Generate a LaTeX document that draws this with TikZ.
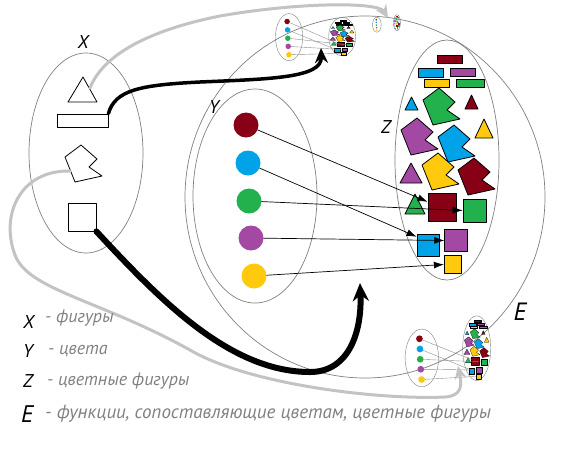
\documentclass[tikz,border=0pt]{standalone}
\usepackage{fontspec}
\setmainfont{PT Sans}
\usetikzlibrary{arrows.meta}
\definecolor{mred}{HTML}{880015}
\definecolor{mblue}{HTML}{00A2E8}
\definecolor{mgreen}{HTML}{22B14C}
\definecolor{mpurple}{HTML}{A349A4}
\definecolor{myellow}{HTML}{FFC90E}
\definecolor{lgray}{HTML}{C3C3C3}
% notched figure, drawn from its left corner
\newcommand\pac{(0,0) -- (16,-12) -- (32,2) -- (24,10) -- (37,19) -- (10,25) -- cycle}
% colours
\newcommand\ypart{%
  \draw[rim] (255,196) ellipse [x radius=62pt, y radius=107pt];
  \foreach \n/\px/\py in {red/246/125, blue/248/163, green/249/201, purple/251/238, yellow/254/276}
    \node[blob, fill=m\n] (c\n) at (\px,\py) {};
}
% coloured figures
\newcommand\zpart{%
  \draw[rim] (447,160) ellipse [x radius=52pt, y radius=120pt];
  \foreach \n/\xa/\ya/\xb/\yb in {red/437/55/462/63, blue/418/68/443/77, purple/450/68/475/76, yellow/424/79/449/87, green/456/79/484/87}
    \filldraw[fig, fill=m\n] (\xa,\ya) rectangle (\xb,\yb);
  \foreach \n/\cx/\by/\w/\h in {blue/411.5/110/13/13, red/471.5/109/13/14, yellow/484/138/18/19, purple/411/183/22/20, green/415/214/20/20}
    \filldraw[fig, fill=m\n] ({\cx-\w/2},\by) -- (\cx,{\by-\h}) -- ({\cx+\w/2},\by) -- cycle;
  \foreach \n/\px/\py in {green/423/100, purple/401/130, blue/438/137, yellow/422/165, red/458/170}
    \filldraw[fig, fill=m\n, shift={(\px,\py)}] \pac;
  \foreach \n/\px/\py/\s in {red/442/207/28, green/474.5/210.5/23, blue/428/245/22, purple/456/240.5/22.5, yellow/453/264.5/17.5}
    \node[sq, fill=m\n, minimum size=\s] (s\n) at (\px,\py) {};
}
% the function itself
\newcommand\links{%
  \foreach \n/\a in {red/160, blue/144, green/180, purple/180, yellow/180}
    \draw[wire] (c\n) -- (s\n.\a);
}
\begin{document}
\begin{tikzpicture}[x=1pt, y=-1pt, line cap=round, line join=round,
    rim/.style={draw=black!50, line width=0.7pt},
    fig/.style={draw=black, line width=0.8pt},
    sq/.style={draw=black, line width=0.8pt, inner sep=0pt},
    blob/.style={circle, minimum size=25pt, inner sep=0pt},
    wire/.style={-{Latex[length=10pt,width=7pt]}, line width=0.7pt},
    mini/.style={rim/.style={draw=black!50, line width=0.4pt},
      fig/.style={draw=black, line width=0.2pt},
      sq/.append style={line width=0.2pt},
      wire/.style={draw=black!45, line width=0.4pt}},
    tiny/.style={rim/.style={draw=black!50, line width=0.4pt},
      fig/.style={draw=none}, sq/.append style={draw=none},
      wire/.style={draw=none}},
    capt/.style={inner sep=0pt, anchor=base, font=\itshape\fontsize{18.5}{18}\selectfont},
    gloss/.style={inner sep=0pt, anchor=base west, text=black!50, font=\itshape\fontsize{18}{18}\selectfont},
    hint/.style={draw=lgray, line width=3pt, -{Stealth[length=13pt,width=12pt]}},
    push/.style={draw=black, -{Stealth[length=15pt,width=13pt]}}]
\useasboundingbox (0,0) rectangle (572,467);

% E
\draw[rim] (365,197) ellipse [x radius=180pt, y radius=181pt];
\node[capt, font=\itshape\fontsize{25}{25}\selectfont] (ename) at (520,320) {E};

% X
\draw[rim] (86,153) ellipse [x radius=57pt, y radius=100pt];
\node[capt] (xname) at (83,48) {X};
\draw[line width=0.8pt] (68,102) -- (83,77) -- (97,102) -- cycle;
\node[draw, line width=0.8pt, minimum width=51pt, minimum height=13pt, inner sep=0pt] (xbar) at (82.5,120.5) {};
\draw[line width=0.8pt, shift={(65,157)}] \pac;
\node[draw, line width=0.8pt, minimum size=28pt, inner sep=0pt] (xbox) at (82,217) {};
\coordinate (xtri) at (90,88);
\coordinate (xpac) at (70,171);

% Y, Z and the function
\ypart
\zpart
\links
\node[capt] (yname) at (214,113) {Y};
\node[capt] (zname) at (386,133) {Z};

% small copies inside E
\begin{scope}[mini, name prefix=t-]
  \begin{scope}[shift={(233,-6)}, scale=0.22, transform shape] \ypart \end{scope}
  \begin{scope}[shift={(226,11)}, xscale=0.26, yscale=0.16, transform shape] \zpart \end{scope}
  \links
\end{scope}
\begin{scope}[mini, name prefix=b-]
  \begin{scope}[shift={(353,305)}, scale=0.27, transform shape] \ypart \end{scope}
  \begin{scope}[shift={(356,305)}, scale=0.27, transform shape] \zpart \end{scope}
  \links
\end{scope}
\begin{scope}[tiny, name prefix=s-]
  \begin{scope}[shift={(359,11)}, scale=0.07, transform shape] \ypart \end{scope}
  \begin{scope}[shift={(367,12)}, scale=0.067, transform shape] \zpart \end{scope}
\end{scope}
\coordinate (tophead) at (321,48);
\coordinate (tinyhead) at (388,18);
\coordinate (ehead) at (360,283);
\coordinate (bothead) at (458,366);

% arrows
\draw[hint] (xtri) .. controls (105,50) and (160,28) .. (220,16) .. controls (300,2) and (378,2) .. (tinyhead);
\draw[hint] (xpac) .. controls (20,170) and (0,215) .. (15,255) .. controls (28,290) and (100,300) .. (190,350)
  .. controls (250,385) and (380,400) .. (445,397) .. controls (462,396) and (462,385) .. (bothead);
\draw[push, line width=3.5pt] (xbar.north east) .. controls (115,90) and (140,85) .. (200,82)
  .. controls (270,79) and (322,78) .. (tophead);
\draw[push, line width=6pt, -{Stealth[length=18pt,width=16pt]}] (xbox.south east) .. controls (160,300) and (230,372) .. (310,372)
  .. controls (350,372) and (362,330) .. (ehead);

% legend
\node[capt, anchor=base west] (lx) at (23,328) {X};
\node[gloss] (gx) at (45,322) {- фигуры};
\node[capt, anchor=base west] (ly) at (23,357) {Y};
\node[gloss] (gy) at (48,354) {- цвета};
\node[capt, anchor=base west] (lz) at (23,387) {Z};
\node[gloss] (gz) at (47,385) {- цветные фигуры};
\node[capt, anchor=base west, font=\itshape\fontsize{24}{24}\selectfont] (le) at (21,422) {E};
\node[gloss, font=\itshape\fontsize{19}{19}\selectfont] (ge) at (45,418) {- функции, сопоставляющие цветам, цветные фигуры};
\end{tikzpicture}
\end{document}
